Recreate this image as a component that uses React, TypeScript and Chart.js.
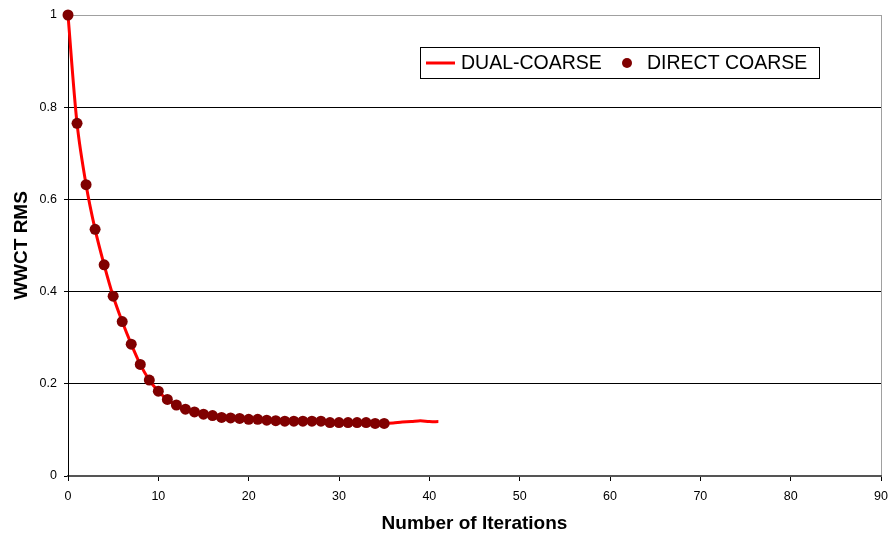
import React, { useEffect, useRef } from "react";
import { Chart, registerables } from "chart.js";

Chart.register(...registerables);

// Iteration counts and RMS of water-cut mismatch per iteration
const dualIterations = [
  0, 1, 2, 3, 4, 5, 6, 7, 8, 9, 10, 11, 12, 13, 14, 15, 16, 17, 18, 19, 20,
  21, 22, 23, 24, 25, 26, 27, 28, 29, 30, 31, 32, 33, 34, 35, 36, 37, 38, 39,
  40, 41,
];
const dualCoarse = [
  1.0, 0.765, 0.632, 0.535, 0.458, 0.39, 0.335, 0.286, 0.242, 0.208, 0.184,
  0.166, 0.154, 0.145, 0.139, 0.134, 0.131, 0.127, 0.126, 0.125, 0.123, 0.123,
  0.121, 0.12, 0.119, 0.119, 0.119, 0.119, 0.119, 0.116, 0.116, 0.116, 0.116,
  0.116, 0.114, 0.114, 0.115, 0.117, 0.118, 0.12, 0.118, 0.118,
];

const directIterations = [
  0, 1, 2, 3, 4, 5, 6, 7, 8, 9, 10, 11, 12, 13, 14, 15, 16, 17, 18, 19, 20,
  21, 22, 23, 24, 25, 26, 27, 28, 29, 30, 31, 32, 33, 34, 35,
];
const directCoarse = [
  1.0, 0.765, 0.632, 0.535, 0.458, 0.39, 0.335, 0.286, 0.242, 0.208, 0.184,
  0.166, 0.154, 0.145, 0.139, 0.134, 0.131, 0.127, 0.126, 0.125, 0.123, 0.123,
  0.121, 0.12, 0.119, 0.119, 0.119, 0.119, 0.119, 0.116, 0.116, 0.116, 0.116,
  0.116, 0.114, 0.114,
];

const seriesLabels = ["DUAL-COARSE", "DIRECT COARSE"];
const xTitle = "Number of Iterations";
const yTitle = "WWCT RMS";

const FONT = '"Liberation Sans", Arial, Helvetica, sans-serif';
const LINE_COLOR = "#ff0000";
const POINT_COLOR = "#800000";

// Boxed legend drawn inside the plot, top-right
const boxedLegend = {
  id: "boxedLegend",
  afterDraw(chart: any) {
    const { ctx } = chart;
    const x0 = 420.5;
    const y0 = 47.5;
    const w = 399;
    const h = 31;
    const cy = y0 + h / 2;
    ctx.save();
    ctx.fillStyle = "#ffffff";
    ctx.fillRect(x0, y0, w, h);
    ctx.strokeStyle = "#000000";
    ctx.lineWidth = 1;
    ctx.strokeRect(x0, y0, w, h);

    ctx.strokeStyle = LINE_COLOR;
    ctx.lineWidth = 3;
    ctx.beginPath();
    ctx.moveTo(426, cy);
    ctx.lineTo(455, cy);
    ctx.stroke();

    ctx.font = `19.5px ${FONT}`;
    ctx.fillStyle = "#000000";
    ctx.textBaseline = "middle";
    ctx.textAlign = "left";
    ctx.fillText(seriesLabels[0], 461, cy + 0.5);

    ctx.fillStyle = POINT_COLOR;
    ctx.beginPath();
    ctx.arc(627, cy, 5, 0, Math.PI * 2);
    ctx.fill();

    ctx.fillStyle = "#000000";
    ctx.fillText(seriesLabels[1], 647, cy + 0.5);
    ctx.restore();
  },
};

export default function App() {
  const canvasRef = useRef<HTMLCanvasElement | null>(null);

  useEffect(() => {
    const canvas = canvasRef.current;
    if (!canvas) return;

    const chart = new Chart(canvas, {
      type: "line",
      data: {
        datasets: [
          {
            label: seriesLabels[0],
            data: dualIterations.map((x, i) => ({ x, y: dualCoarse[i] })),
            borderColor: LINE_COLOR,
            backgroundColor: LINE_COLOR,
            borderWidth: 3,
            pointRadius: 0,
            tension: 0.3,
            fill: false,
            clip: false,
            order: 2,
          },
          {
            label: seriesLabels[1],
            data: directIterations.map((x, i) => ({ x, y: directCoarse[i] })),
            showLine: false,
            pointRadius: 5.5,
            pointBorderWidth: 0,
            pointBackgroundColor: POINT_COLOR,
            pointBorderColor: POINT_COLOR,
            backgroundColor: POINT_COLOR,
            borderColor: POINT_COLOR,
            clip: false,
            order: 1,
          },
        ],
      },
      options: {
        responsive: false,
        animation: false,
        devicePixelRatio: 1,
        layout: { padding: { top: 15, right: 9, left: 0, bottom: 0 } },
        plugins: {
          legend: { display: false },
          tooltip: { enabled: false },
        },
        scales: {
          x: {
            type: "linear",
            min: 0,
            max: 90,
            ticks: {
              stepSize: 10,
              color: "#000",
              font: { family: FONT, size: 12.5 },
              padding: 8,
              maxRotation: 0,
            },
            grid: {
              drawOnChartArea: true,
              color: (c: any) =>
                c.tick && c.tick.value === 90 ? "#a0a0a0" : "rgba(0,0,0,0)",
              tickColor: "#000",
              tickLength: 5,
              lineWidth: 1,
            },
            border: { color: "#555", width: 2 },
            title: {
              display: true,
              text: xTitle,
              color: "#000",
              font: { family: FONT, size: 19, weight: "bold" },
              padding: { top: 0, bottom: 4 },
            },
            afterFit: (scale: any) => {
              scale.height = 63;
              scale.paddingLeft = 0;
              scale.paddingRight = 0;
            },
          },
          y: {
            type: "linear",
            min: 0,
            max: 1,
            ticks: {
              stepSize: 0.2,
              color: "#000",
              font: { family: FONT, size: 12.5 },
              padding: 7,
              callback: (v: any) => String(Number(Number(v).toFixed(1))),
            },
            grid: {
              color: (c: any) => {
                const v = c.tick ? c.tick.value : 0;
                if (v === 0) return "rgba(0,0,0,0)";
                if (v === 1) return "#a0a0a0";
                return "#000";
              },
              tickColor: "#000",
              tickLength: 4,
              lineWidth: 1,
            },
            border: { color: "#000", width: 1 },
            title: {
              display: true,
              text: yTitle,
              color: "#000",
              font: { family: FONT, size: 19, weight: "bold" },
              padding: { top: 10, bottom: 0 },
            },
            afterFit: (scale: any) => {
              scale.width = 68;
              scale.paddingTop = 0;
              scale.paddingBottom = 0;
            },
          },
        },
      },
      plugins: [boxedLegend],
    });

    return () => {
      chart.destroy();
    };
  }, []);

  return (
    <div
      style={{
        position: "fixed",
        left: 0,
        top: 0,
        width: 890,
        height: 539,
        background: "#ffffff",
      }}
    >
      <canvas ref={canvasRef} width={890} height={539} />
    </div>
  );
}
